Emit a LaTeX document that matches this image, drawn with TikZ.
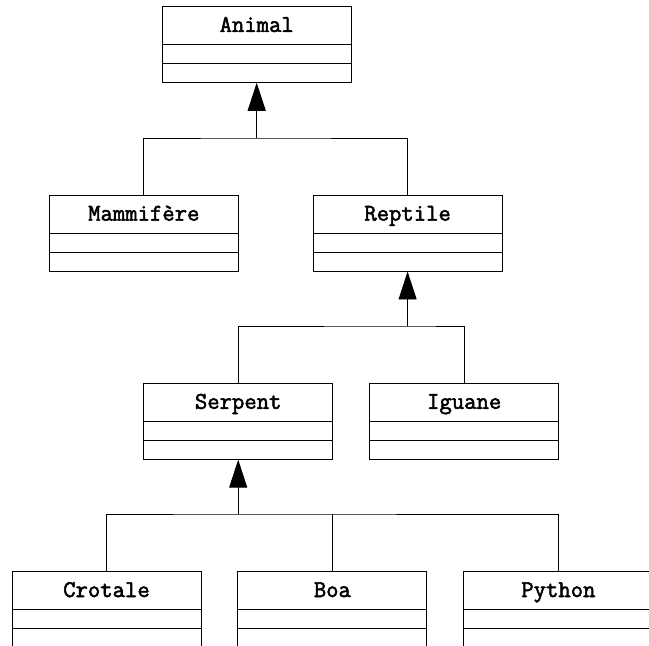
\documentclass[tikz,border=0pt]{standalone}
\usepackage{fontspec}
\newfontfamily\clsfont{Latin Modern Mono}[FakeBold=2.2]
\usetikzlibrary{arrows.meta}
\tikzset{
  cls/.style={draw, line width=0.9pt, inner sep=0pt, minimum width=189pt,
    text height=25.6pt, text depth=50.4pt,
    font=\clsfont\fontsize{24}{26}\selectfont,
    path picture={
      \draw[line width=0.9pt] ([yshift=-38pt]path picture bounding box.north west) -- ++(189pt,0);
      \draw[line width=0.9pt] ([yshift=-57pt]path picture bounding box.north west) -- ++(189pt,0);
    }},
  inh/.style={line width=0.9pt},
  inharrow/.style={line width=0.9pt, -{Triangle[width=18pt,length=28pt]}}
}
\begin{document}
\begin{tikzpicture}[x=1pt,y=-1pt]
\useasboundingbox (0,0) rectangle (649,646);
\clip (0,0) rectangle (649,646);
\node[cls] (animal) at (256.7,44.3) {Animal};
\node[cls] (mam) at (143.8,233) {Mammifère};
\node[cls] (rep) at (407.6,233) {Reptile};
\node[cls] (serp) at (238.2,421.2) {Serpent};
\node[cls] (igu) at (464.2,421.2) {Iguane};
\node[cls] (crot) at (106.5,609.4) {Crotale};
\node[cls] (boa) at (332.4,609.4) {Boa};
\node[cls] (py) at (558.4,609.4) {Python};
\coordinate (j1) at (256.7,138);
\coordinate (j2) at (407.6,326);
\coordinate (j3) at (238.2,514);
\draw[inharrow] (j1) -- (animal.south);
\draw[inh] (mam.north) |- (j1) -| (rep.north);
\draw[inharrow] (j2) -- (rep.south);
\draw[inh] (serp.north) |- (j2) -| (igu.north);
\draw[inharrow] (j3) -- (serp.south);
\draw[inh] (crot.north) |- (j3) -| (py.north);
\draw[inh] (boa.north) -- (boa.north |- j3);
\end{tikzpicture}
\end{document}
